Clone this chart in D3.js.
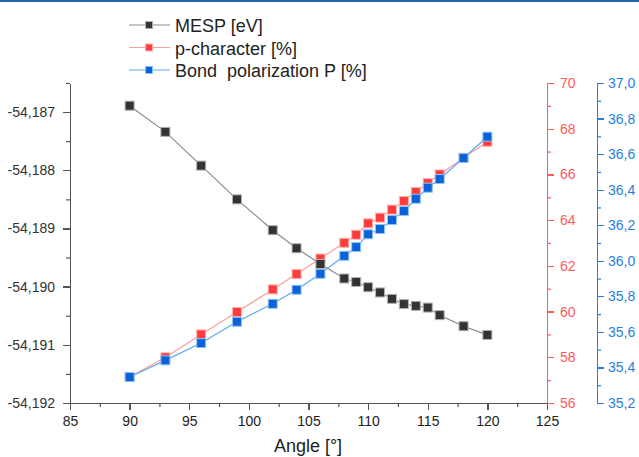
<!DOCTYPE html>
<html lang="en">
<head>
<meta charset="UTF-8">
<title>MESP, p-character and bond polarization vs angle</title>
<style>
    body { margin: 0; background: #fff; font-family: "Liberation Sans", Arial, sans-serif; }
    svg text { font-family: "Liberation Sans", Arial, sans-serif; }
    .axis path, .axis line { shape-rendering: crispEdges; }
</style>
</head>
<body>
<svg id="chart" width="639" height="457"></svg>
<script src="https://d3js.org/d3.v7.min.js"></script>
<script>
    // data
    const angles = [90, 93, 96, 99, 102, 104, 106, 108, 109, 110, 111, 112, 113, 114, 115, 116, 118, 120];
    const mesp = [-54.18689, -54.18734, -54.18792, -54.18850, -54.18903, -54.18934, -54.18961, -54.18986, -54.18992,
                  -54.19001, -54.19010, -54.19021, -54.19030, -54.19033, -54.19036, -54.19049, -54.19068, -54.19083];
    const pChar = [57.14, 58.00, 59.00, 59.98, 60.97, 61.64, 62.32, 63.01, 63.36, 63.86, 64.11, 64.46, 64.84,
                   65.23, 65.62, 66.00, 66.73, 67.43];
    const polarization = [35.346, 35.44, 35.537, 35.657, 35.758, 35.837, 35.927, 36.028, 36.077, 36.149, 36.179,
                          36.229, 36.28, 36.349, 36.411, 36.46, 36.578, 36.698];

    const xTicks = [85, 90, 95, 100, 105, 110, 115, 120, 125];
    const leftTicks = [-54.192, -54.191, -54.190, -54.189, -54.188, -54.187];
    const redTicks = [56, 58, 60, 62, 64, 66, 68, 70];
    const blueTicks = [35.2, 35.4, 35.6, 35.8, 36.0, 36.2, 36.4, 36.6, 36.8, 37.0];

    const series = [
        { name: 'MESP [eV]', values: mesp, axis: 'left', line: '#8c8c8c', fill: '#333333', stroke: '#b0b0b0' },
        { name: 'p-character [%]', values: pChar, axis: 'red', line: '#ff9c9c', fill: '#ff3b3b', stroke: '#ffb0b0' },
        { name: 'Bond  polarization P [%]', values: polarization, axis: 'blue', line: '#5aaaf0', fill: '#0a62d6', stroke: '#8cc4f5' }
    ];

    const locale = d3.formatLocale({ decimal: ',', thousands: '.', grouping: [3], currency: ['', ''], minus: '-' });

    const svg = d3.select('#chart');
    const plot = { left: 70, right: 547, top: 83, bottom: 403 };

    svg.append('rect').attr('x', 0).attr('y', 0).attr('width', 639).attr('height', 2).attr('fill', '#2a62a6');

    const x = d3.scaleLinear().domain([85, 125]).range([plot.left, plot.right]);
    const yL = d3.scaleLinear().domain([-54.192, -54.1865]).range([plot.bottom, plot.top]);
    const yR = d3.scaleLinear().domain([56, 70]).range([plot.bottom, plot.top]);
    const yB = d3.scaleLinear().domain([35.2, 37.0]).range([plot.bottom, plot.top]);
    const scales = { left: yL, red: yR, blue: yB };

    function styleAxis(g, color) {
        g.attr('class', 'axis');
        g.selectAll('path').attr('stroke', color).attr('stroke-width', 1.5);
        g.selectAll('line').attr('stroke', color).attr('stroke-width', 1.3);
        g.selectAll('text').attr('fill', color).style('font-size', '14px');
    }

    // minor ticks
    function minor(axisFn, scale, values, transform, color) {
        const g = svg.append('g').attr('transform', transform)
            .call(axisFn(scale).tickValues(values).tickSize(4).tickFormat(''));
        g.select('path').remove();
        g.selectAll('line').attr('stroke', color).attr('stroke-width', 1.2);
    }

    // bottom axis
    const gx = svg.append('g').attr('transform', `translate(0,${plot.bottom})`)
        .call(d3.axisBottom(x).tickValues(xTicks).tickSize(7).tickSizeOuter(0).tickPadding(6).tickFormat(d3.format('d')));
    styleAxis(gx, '#555');
    gx.selectAll('text').attr('fill', '#222');
    minor(d3.axisBottom, x, d3.range(87.5, 125, 5), `translate(0,${plot.bottom})`, '#555');

    // left axis
    const gl = svg.append('g').attr('transform', `translate(${plot.left},0)`)
        .call(d3.axisLeft(yL).tickValues(leftTicks).tickSize(7).tickSizeOuter(0).tickPadding(8).tickFormat(locale.format('.3f')));
    styleAxis(gl, '#555');
    gl.selectAll('text').attr('fill', '#333');
    minor(d3.axisLeft, yL, [-54.1915, -54.1905, -54.1895, -54.1885, -54.1875, -54.1865], `translate(${plot.left},0)`, '#555');

    // red right axis
    const redX = 547;
    const gr = svg.append('g').attr('transform', `translate(${redX},0)`)
        .call(d3.axisRight(yR).tickValues(redTicks).tickSize(7).tickSizeOuter(0).tickPadding(6).tickFormat(d3.format('d')));
    styleAxis(gr, '#ff5a5a');
    minor(d3.axisRight, yR, [57, 59, 61, 63, 65, 67, 69], `translate(${redX},0)`, '#ff5a5a');

    // blue right axis
    const blueX = 597;
    const gb = svg.append('g').attr('transform', `translate(${blueX},0)`)
        .call(d3.axisRight(yB).tickValues(blueTicks).tickSize(7).tickSizeOuter(0).tickPadding(4).tickFormat(locale.format('.1f')));
    styleAxis(gb, '#1f80e0');
    minor(d3.axisRight, yB, d3.range(35.3, 37.0, 0.2), `translate(${blueX},0)`, '#1f80e0');

    // axis title
    svg.append('text').attr('x', 308).attr('y', 452).attr('text-anchor', 'middle')
        .style('font-size', '18px').attr('fill', '#222').text('Angle [°]');

    // series: red and blue first, black on top
    const drawOrder = [series[1], series[2], series[0]];
    drawOrder.forEach(s => {
        const y = scales[s.axis];
        const line = d3.line().x((d, i) => x(angles[i])).y(d => y(d));
        svg.append('path').datum(s.values).attr('d', line)
            .attr('fill', 'none').attr('stroke', s.line).attr('stroke-width', 1.2);
        svg.append('g').selectAll('rect').data(s.values).enter().append('rect')
            .attr('x', (d, i) => x(angles[i]) - 4.5)
            .attr('y', d => y(d) - 4.5)
            .attr('width', 9).attr('height', 9)
            .attr('fill', s.fill).attr('stroke', s.stroke).attr('stroke-width', 1);
    });

    // legend
    const legend = svg.append('g');
    series.forEach((s, i) => {
        const cy = 25 + i * 22.5;
        legend.append('line').attr('x1', 129).attr('x2', 170).attr('y1', cy).attr('y2', cy)
            .attr('stroke', s.line).attr('stroke-width', 1.2);
        legend.append('rect').attr('x', 145.5).attr('y', cy - 3.5).attr('width', 7).attr('height', 7)
            .attr('fill', s.fill).attr('stroke', s.stroke).attr('stroke-width', 1);
        legend.append('text').attr('x', 175).attr('y', cy + 7).style('font-size', '18px')
            .style('white-space', 'pre').attr('fill', '#222').text(s.name);
    });
</script>
</body>
</html>
